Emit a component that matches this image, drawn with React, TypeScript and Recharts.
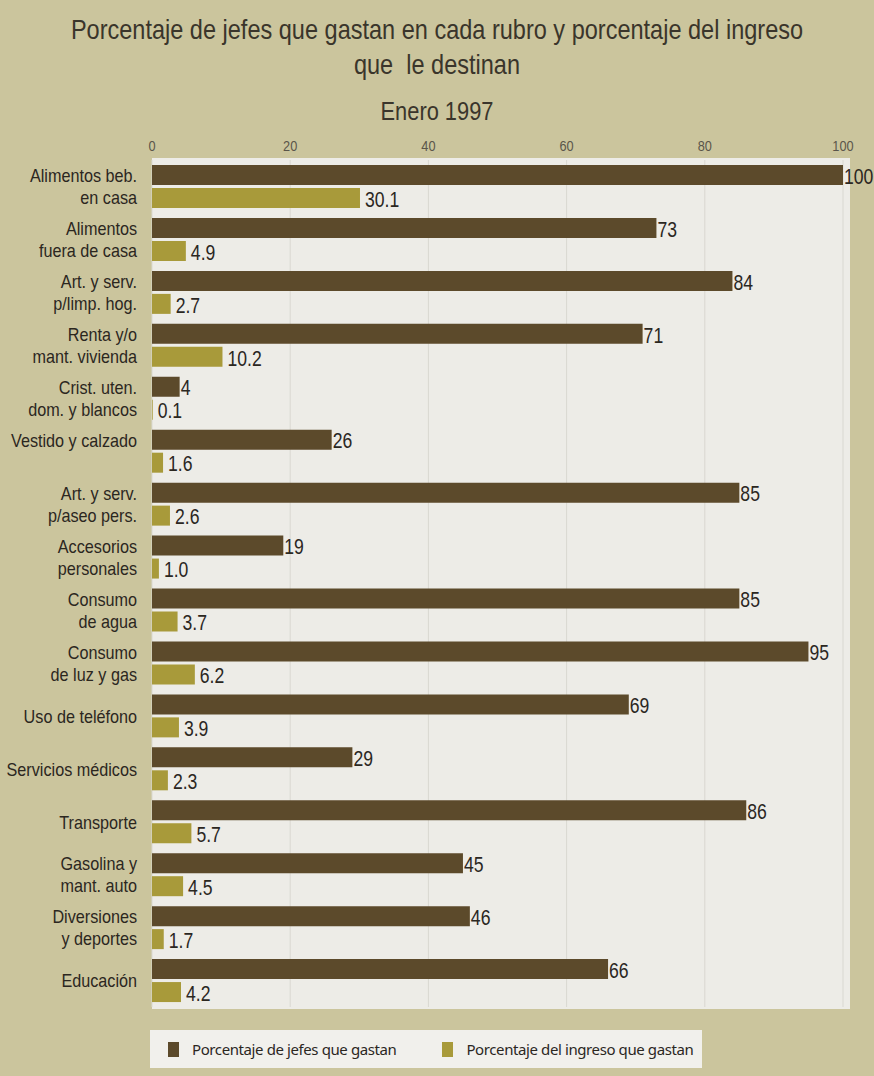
import { BarChart, Bar, XAxis, YAxis, CartesianGrid, LabelList } from 'recharts';

// '|' splits a label over the two bars of its row
const categories = [
  'Alimentos beb.|en casa',
  'Alimentos|fuera de casa',
  'Art. y serv.|p/limp. hog.',
  'Renta y/o|mant. vivienda',
  'Crist. uten.|dom. y blancos',
  'Vestido y calzado|',
  'Art. y serv.|p/aseo pers.',
  'Accesorios|personales',
  'Consumo|de agua',
  'Consumo|de luz y gas',
  'Uso de teléfono',
  'Servicios médicos',
  'Transporte',
  'Gasolina y|mant. auto',
  'Diversiones|y deportes',
  'Educación',
];

const jefesQueGastan = [100, 73, 84, 71, 4, 26, 85, 19, 85, 95, 69, 29, 86, 45, 46, 66];
const ingresoQueGastan = [30.1, 4.9, 2.7, 10.2, 0.1, 1.6, 2.6, 1.0, 3.7, 6.2, 3.9, 2.3, 5.7, 4.5, 1.7, 4.2];
const xTicks = [0, 20, 40, 60, 80, 100];

const SERIES_JEFES = 'Porcentaje de jefes que gastan';
const SERIES_INGRESO = 'Porcentaje del ingreso que gastan';

const DARK = '#5c4a2b';
const OLIVE = '#a89a3a';
const TEXT = '#2b271f';
const SANS = '"Liberation Sans", Arial, sans-serif';

const data = categories.map((c, i) => ({
  name: c,
  jefes: jefesQueGastan[i],
  ingreso: ingresoQueGastan[i],
}));

// condensed text: Liberation Sans squeezed horizontally, like the Helvetica Condensed of the print
function NarrowText({
  x,
  y,
  anchor,
  size,
  squeeze,
  fill = TEXT,
  children,
}: {
  x: number;
  y: number;
  anchor: 'start' | 'middle' | 'end';
  size: number;
  squeeze: number;
  fill?: string;
  children: React.ReactNode;
}) {
  return (
    <text
      transform={`translate(${x},${y}) scale(${squeeze},1)`}
      textAnchor={anchor}
      dominantBaseline="central"
      fontSize={size}
      fontFamily={SANS}
      fill={fill}
    >
      {children}
    </text>
  );
}

// eslint-disable-next-line @typescript-eslint/no-explicit-any
function CategoryTick({ x, y, payload }: any) {
  const lines: string[] = String(payload.value).split('|');
  const offsets = lines.length === 2 ? [-10, 12] : [1];
  return (
    <g>
      {lines.map((l, i) =>
        l ? (
          <NarrowText key={i} x={x - 7} y={y + offsets[i]} anchor="end" size={18} squeeze={0.9}>
            {l}
          </NarrowText>
        ) : null,
      )}
    </g>
  );
}

// eslint-disable-next-line @typescript-eslint/no-explicit-any
function TopTick({ x, y, payload }: any) {
  return (
    <NarrowText x={x} y={y - 6} anchor="middle" size={14.5} squeeze={0.88} fill="#5a554a">
      {payload.value}
    </NarrowText>
  );
}

// eslint-disable-next-line @typescript-eslint/no-explicit-any
const valueLabel = (decimals: number, gap: number) => (props: any) => {
  const { x, y, width, height, value } = props;
  return (
    <NarrowText
      x={Number(x) + Number(width) + gap}
      y={Number(y) + Number(height) / 2 + 1}
      anchor="start"
      size={22}
      squeeze={0.8}
    >
      {Number(value).toFixed(decimals)}
    </NarrowText>
  );
};

export default function App() {
  return (
    <div
      style={{
        position: 'absolute',
        left: 0,
        top: 0,
        width: 874,
        height: 1076,
        background: '#cbc59d',
        overflow: 'hidden',
        fontFamily: SANS,
      }}
    >
      {/* Titles */}
      <div
        style={{
          position: 'absolute',
          left: 0,
          width: 874,
          top: 12,
          textAlign: 'center',
          fontSize: 28,
          lineHeight: '35px',
          color: '#3a352b',
          transform: 'scaleX(0.84)',
        }}
      >
        Porcentaje de jefes que gastan en cada rubro y porcentaje del ingreso
        <br />
        que&nbsp; le destinan
      </div>
      <div
        style={{
          position: 'absolute',
          left: 0,
          width: 874,
          top: 96,
          textAlign: 'center',
          fontSize: 26,
          color: '#3a352b',
          transform: 'scaleX(0.84)',
        }}
      >
        Enero 1997
      </div>

      {/* Plot background */}
      <div
        style={{
          position: 'absolute',
          left: 152,
          top: 158,
          width: 698,
          height: 851,
          background: '#edece7',
        }}
      />

      <div style={{ position: 'absolute', left: 0, top: 0 }}>
        <BarChart
          width={874}
          height={1010}
          data={data}
          layout="vertical"
          margin={{ top: 130, right: 31, left: 0, bottom: 3 }}
          barGap={3}
          barSize={20}
        >
          <CartesianGrid vertical horizontal={false} stroke="#d9d8d1" />
          <XAxis
            type="number"
            orientation="top"
            domain={[0, 100]}
            ticks={xTicks}
            height={30}
            axisLine={false}
            tickLine={false}
            tick={<TopTick />}
          />
          <YAxis
            type="category"
            dataKey="name"
            width={152}
            axisLine={false}
            tickLine={false}
            interval={0}
            tick={<CategoryTick />}
          />
          <Bar dataKey="jefes" name={SERIES_JEFES} fill={DARK} isAnimationActive={false}>
            <LabelList dataKey="jefes" content={valueLabel(0, 1)} />
          </Bar>
          <Bar dataKey="ingreso" name={SERIES_INGRESO} fill={OLIVE} isAnimationActive={false}>
            <LabelList dataKey="ingreso" content={valueLabel(1, 5)} />
          </Bar>
        </BarChart>
      </div>

      {/* Legend */}
      <div
        style={{
          position: 'absolute',
          left: 150,
          top: 1030,
          width: 552,
          height: 38,
          background: '#f1f0ec',
          display: 'flex',
          alignItems: 'center',
          fontFamily: '"Noto Sans", "Open Sans", sans-serif',
          fontSize: 15,
          color: TEXT,
          letterSpacing: -0.4,
        }}
      >
        <span style={{ display: 'inline-block', width: 11, height: 15, background: DARK, marginLeft: 18 }} />
        <span style={{ marginLeft: 13 }}>{SERIES_JEFES}</span>
        <span style={{ display: 'inline-block', width: 11, height: 15, background: OLIVE, marginLeft: 46 }} />
        <span style={{ marginLeft: 13 }}>{SERIES_INGRESO}</span>
      </div>
    </div>
  );
}
